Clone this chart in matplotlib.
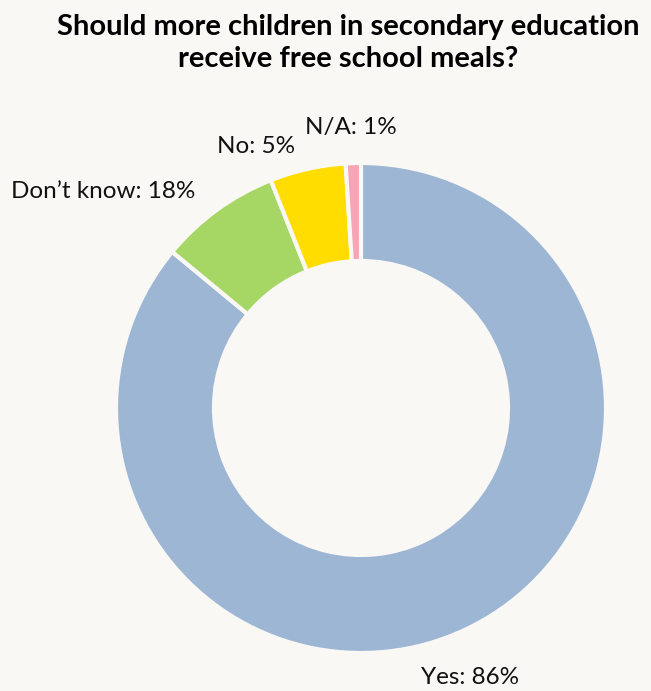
import matplotlib.pyplot as plt

# survey answers (wedge shares in %)
answers = ["Yes", "Don't know", "No", "N/A"]
shares = [86, 8, 5, 1]
label_texts = ["Yes: 86%", "Don’t know: 18%", "No: 5%", "N/A: 1%"]
colours = ["#9cb6d3", "#a6d664", "#ffdd00", "#f8a3b6"]

bg = "#f9f8f5"
plt.rcParams['font.family'] = ['Lato', 'DejaVu Sans']

fig = plt.figure(figsize=(6.51, 6.91), dpi=100, facecolor=bg)
ax = fig.add_axes([116 / 651, 38 / 691, 490 / 651, 490 / 691])
ax.set_facecolor(bg)

wedges, _ = ax.pie(shares, colors=colours, startangle=90, counterclock=False,
                   radius=1, wedgeprops=dict(width=0.4, edgecolor=bg, linewidth=3))
ax.set_xlim(-1, 1)
ax.set_ylim(-1, 1)
ax.set_aspect('auto')
ax.axis('off')

# label anchors (x, y, ha) around the ring
anchors = [(0.245, -1.10, 'left'), (-0.678, 0.882, 'right'),
           (-0.429, 1.069, 'center'), (-0.041, 1.143, 'center')]
for txt, (x, y, ha) in zip(label_texts, anchors):
    ax.text(x, y, txt, ha=ha, va='center', fontsize=17.5, color='#111111', clip_on=False)

fig.text(0.535, 0.938, "Should more children in secondary education\nreceive free school meals?",
         ha='center', va='center', fontsize=21, fontweight='bold', linespacing=1.3)

fig.savefig("out.png", dpi=100, facecolor=bg)
